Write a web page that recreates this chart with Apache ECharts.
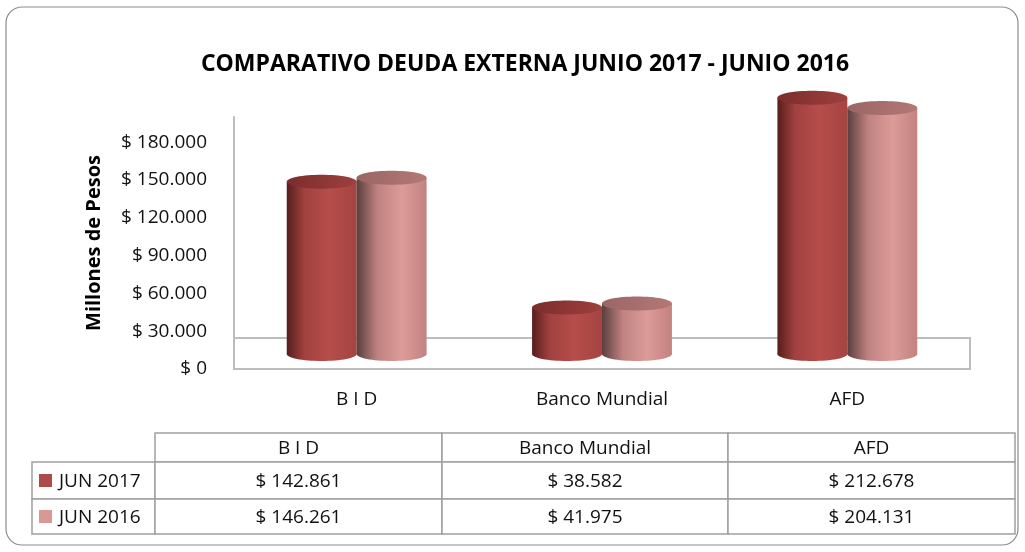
<!DOCTYPE html>
<html>
<head>
<meta charset="utf-8">
<script src="https://cdn.jsdelivr.net/npm/echarts@6/dist/echarts.min.js"></script>
<style>
  html, body { margin: 0; padding: 0; background: #fff; }
  #chart { width: 1025px; height: 552px; }
</style>
</head>
<body>
<div id="chart"></div>
<script>
// datos
const categories = ['B I D', 'Banco Mundial', 'AFD'];
const seriesNames = ['JUN 2017', 'JUN 2016'];
const jun2017 = [142861, 38582, 212678];
const jun2016 = [146261, 41975, 204131];
const yMax = 180000;
const yStep = 30000;

const FONT = '"Open Sans", "DejaVu Sans", sans-serif';
const colors = ['#ae4a47', '#d99795'];

function money(v) {
    return '$ ' + String(v).replace(/\B(?=(\d{3})+(?!\d))/g, '.');
}

// cilindros: degradado horizontal del cuerpo y de la tapa
const bodyFill = [
    { type: 'linear', x: 0, y: 0, x2: 1, y2: 0, colorStops: [
        { offset: 0, color: '#571d1c' }, { offset: 0.25, color: '#a04140' },
        { offset: 0.6, color: '#b64d4a' }, { offset: 1, color: '#a44442' }] },
    { type: 'linear', x: 0, y: 0, x2: 1, y2: 0, colorStops: [
        { offset: 0, color: '#5a3f3f' }, { offset: 0.3, color: '#c08381' },
        { offset: 0.65, color: '#dc9b99' }, { offset: 1, color: '#c28280' }] }
];
const topFill = [
    { type: 'linear', x: 0, y: 0, x2: 1, y2: 0, colorStops: [
        { offset: 0, color: '#7a2d2c' }, { offset: 1, color: '#9e403e' }] },
    { type: 'linear', x: 0, y: 0, x2: 1, y2: 0, colorStops: [
        { offset: 0, color: '#9a6664' }, { offset: 1, color: '#b27876' }] }
];

function cylinder(si) {
    return function (params, api) {
        const idx = api.value(0);
        const top = api.coord([idx, api.value(1)]);
        const base = api.coord([idx, 0]);
        const band = api.size([1, 0])[0];
        const w = band * 0.285;
        const cx = top[0] + (si === 0 ? -w / 2 : w / 2);
        const ry = 7;
        return {
            type: 'group',
            children: [
                { type: 'ellipse', shape: { cx: cx, cy: base[1], rx: w / 2, ry: ry },
                  style: { fill: bodyFill[si] } },
                { type: 'rect', shape: { x: cx - w / 2, y: top[1], width: w, height: base[1] - top[1] },
                  style: { fill: bodyFill[si] } },
                { type: 'ellipse', shape: { cx: cx, cy: top[1], rx: w / 2, ry: ry },
                  style: { fill: topFill[si] } }
            ]
        };
    };
}

// tabla de datos
const colX = [155, 442, 728, 1015];
const rowY = [433, 462, 499, 534];
const lineStyle = { fill: '#fff', stroke: '#a0a0a0', lineWidth: 1.5 };
const table = [];
for (let c = 0; c < 3; c++) {
    table.push({ type: 'rect', shape: { x: colX[c], y: rowY[0], width: colX[c + 1] - colX[c], height: rowY[1] - rowY[0] }, style: lineStyle });
    table.push({ type: 'text', x: (colX[c] + colX[c + 1]) / 2, y: (rowY[0] + rowY[1]) / 2 + 1, z: 10,
        style: { text: categories[c], fontSize: 19, fontFamily: FONT, fill: '#111', align: 'center', verticalAlign: 'middle' } });
}
[jun2017, jun2016].forEach(function (vals, r) {
    const y0 = rowY[r + 1], h = rowY[r + 2] - rowY[r + 1];
    table.push({ type: 'rect', shape: { x: 32, y: y0, width: colX[0] - 32, height: h }, style: lineStyle });
    table.push({ type: 'rect', shape: { x: 39, y: y0 + h / 2 - 6.5, width: 13, height: 13 }, z: 10, style: { fill: colors[r] } });
    table.push({ type: 'text', x: 59, y: y0 + h / 2 + 1, z: 10,
        style: { text: seriesNames[r], fontSize: 19, fontFamily: FONT, fill: '#111', align: 'left', verticalAlign: 'middle' } });
    for (let c = 0; c < 3; c++) {
        table.push({ type: 'rect', shape: { x: colX[c], y: y0, width: colX[c + 1] - colX[c], height: h }, style: lineStyle });
        table.push({ type: 'text', x: (colX[c] + colX[c + 1]) / 2, y: y0 + h / 2 + 1, z: 10,
            style: { text: money(vals[c]), fontSize: 19, fontFamily: FONT, fill: '#111', align: 'center', verticalAlign: 'middle' } });
    }
});

// piso 3D del grafico
const floor = {
    type: 'polyline', z: 0,
    shape: { points: [[234, 338], [970, 338], [970, 369], [234, 369]] },
    style: { fill: 'none', stroke: '#bdbdbd', lineWidth: 2 }
};

// marco redondeado
const frame = {
    type: 'rect', z: -10,
    shape: { x: 6, y: 7, width: 1012, height: 538, r: 16 },
    style: { fill: '#fff', stroke: '#8c8c8c', lineWidth: 1.2 }
};

const chart = echarts.init(document.getElementById('chart'), null, { renderer: 'canvas' });
chart.setOption({
    animation: false,
    backgroundColor: '#fff',
    title: {
        text: 'COMPARATIVO DEUDA EXTERNA JUNIO 2017 - JUNIO 2016',
        left: 520, top: 48, textAlign: 'center',
        textStyle: { fontFamily: FONT, fontWeight: 'bold', fontSize: 23, color: '#000' }
    },
    grid: [
        { left: 234, right: 55, top: 117, height: 252 },
        { left: 234, right: 55, top: 113, height: 241 }
    ],
    xAxis: [
        { type: 'category', gridIndex: 0, data: categories,
          axisLine: { show: true, lineStyle: { color: '#bdbdbd', width: 2 } },
          axisTick: { show: false },
          axisLabel: { margin: 21, fontSize: 19, fontFamily: FONT, color: '#111' } },
        { type: 'category', gridIndex: 1, data: categories, show: false }
    ],
    yAxis: [
        { type: 'value', gridIndex: 0, min: 0, max: yMax + 20000, interval: yStep,
          name: 'Millones de Pesos', nameLocation: 'middle', nameGap: 130, nameRotate: 90,
          nameTextStyle: { fontFamily: FONT, fontWeight: 'bold', fontSize: 20, color: '#000' },
          axisLine: { show: true, lineStyle: { color: '#bdbdbd', width: 2 } },
          axisTick: { show: false },
          splitLine: { show: false },
          axisLabel: { margin: 27, fontSize: 19, fontFamily: FONT, color: '#111', showMaxLabel: false,
              formatter: function (v) { return v > yMax ? '' : money(v); } } },
        { type: 'value', gridIndex: 1, min: 0, max: 200000, show: false }
    ],
    graphic: [frame, floor].concat(table),
    series: [
        { type: 'custom', name: seriesNames[0], xAxisIndex: 1, yAxisIndex: 1, z: 3,
          renderItem: cylinder(0), data: jun2017.map(function (v, i) { return [i, v]; }) },
        { type: 'custom', name: seriesNames[1], xAxisIndex: 1, yAxisIndex: 1, z: 4,
          renderItem: cylinder(1), data: jun2016.map(function (v, i) { return [i, v]; }) }
    ]
});
</script>
</body>
</html>
